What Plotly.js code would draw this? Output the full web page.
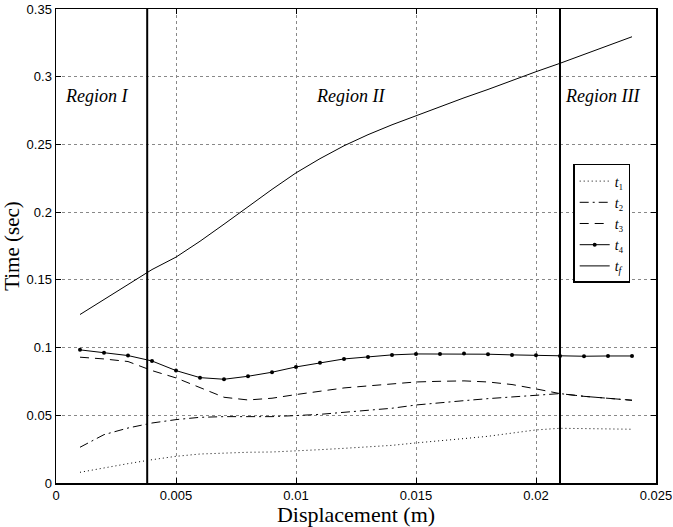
<!DOCTYPE html>
<html><head><meta charset="utf-8">
<script src="https://cdn.plot.ly/plotly-3.0.1.min.js"></script>
<style>html,body{margin:0;padding:0;background:#fff}#chart{width:673px;height:527px}</style>
</head><body><div id="chart"></div>
<script>
const displacement = [0.001,0.002,0.003,0.004,0.005,0.006,0.007,0.008,0.009,0.010,0.011,0.012,0.013,0.014,0.015,0.016,0.017,0.018,0.019,0.020,0.021,0.022,0.023,0.024];
const t1 = [0.0079,0.0113,0.0143,0.0172,0.0197,0.0214,0.0222,0.0227,0.0229,0.0236,0.0246,0.0256,0.0266,0.0278,0.0296,0.0310,0.0328,0.0345,0.0370,0.0392,0.0404,0.0401,0.0399,0.0397];
const t2 = [0.0264,0.0357,0.0406,0.0443,0.0468,0.0485,0.0490,0.0488,0.0490,0.0498,0.0507,0.0522,0.0537,0.0552,0.0576,0.0594,0.0608,0.0623,0.0635,0.0648,0.0660,0.0640,0.0626,0.0611];
const t3 = [0.0929,0.0916,0.0897,0.0830,0.0776,0.0702,0.0633,0.0613,0.0626,0.0653,0.0677,0.0702,0.0717,0.0734,0.0746,0.0751,0.0754,0.0746,0.0727,0.0695,0.0660,0.0640,0.0626,0.0611];
const t4 = [0.0983,0.0961,0.0941,0.0901,0.0830,0.0778,0.0766,0.0788,0.0818,0.0857,0.0887,0.0916,0.0931,0.0946,0.0953,0.0953,0.0956,0.0951,0.0946,0.0943,0.0938,0.0936,0.0938,0.0938];
const tf = [0.1244,0.1355,0.1466,0.1576,0.1668,0.1785,0.1911,0.2040,0.2168,0.2290,0.2395,0.2490,0.2572,0.2645,0.2713,0.2780,0.2844,0.2906,0.2973,0.3037,0.3099,0.3166,0.3228,0.3295];
const seriesNames = ['<i>t</i>\u2081','<i>t</i>\u2082','<i>t</i>\u2083','<i>t</i>\u2084','<i>t</i><sub><i>f</i></sub>'];
const regionBounds = [0.0038, 0.021];
const regionLabels = ['Region I','Region II','Region III'];
const regionLabelX = [0.0017, 0.01225, 0.02277];
const regionLabelY = [0.286, 0.286, 0.286];

const serif = 'Liberation Serif, DejaVu Serif, serif';
const traces = [
  {x: displacement, y: t1, name: seriesNames[0], mode:'lines', line:{color:'#000', width:1, dash:'1px,3px'}},
  {x: displacement, y: t2, name: seriesNames[1], mode:'lines', line:{color:'#000', width:1, dash:'9px,4px,2px,4px'}},
  {x: displacement, y: t3, name: seriesNames[2], mode:'lines', line:{color:'#000', width:1, dash:'9px,6px'}},
  {x: displacement, y: t4, name: seriesNames[3], mode:'lines+markers', line:{color:'#000', width:1}, marker:{color:'#000', size:4}},
  {x: displacement, y: tf, name: seriesNames[4], mode:'lines', line:{color:'#000', width:1}}
];
const shapes = regionBounds.map(b => ({type:'line', xref:'x', yref:'paper', x0:b, x1:b, y0:0, y1:1, line:{color:'#000', width:2}}));
const annotations = regionLabels.map((t,i) => ({x: regionLabelX[i], y: regionLabelY[i], xref:'x', yref:'y', text:'<i>'+t+'</i>', showarrow:false, font:{family:serif, size:18, color:'#000'}}));
const axisCommon = {showline:true, linecolor:'#000', linewidth:1.5, mirror:'allticks', ticks:'inside', ticklen:5, tickcolor:'#000',
  showgrid:true, gridcolor:'#888', griddash:'dot', gridwidth:1, zeroline:false, tickfont:{family:'Liberation Sans, Arial, sans-serif', size:13, color:'#000'}};
const layout = {
  width:673, height:527,
  margin:{l:56, r:17, t:9, b:44},
  paper_bgcolor:'#fff', plot_bgcolor:'#fff',
  showlegend:true,
  legend:{x:0.862, y:0.673, xanchor:'left', yanchor:'top', bgcolor:'#fff', bordercolor:'#000', borderwidth:1.5,
    font:{family:serif, size:14, color:'#000'}, itemwidth:30, tracegroupgap:0},
  xaxis: Object.assign({}, axisCommon, {range:[0,0.025], dtick:0.005, tick0:0,
    title:{text:'Displacement (m)', font:{family:serif, size:22, color:'#000'}, standoff:0}}),
  yaxis: Object.assign({}, axisCommon, {range:[0,0.35], dtick:0.05, tick0:0,
    title:{text:'Time (sec)', font:{family:serif, size:21, color:'#000'}, standoff:2}}),
  shapes: shapes,
  annotations: annotations
};
Plotly.newPlot('chart', traces, layout, {displayModeBar:false, staticPlot:true});
</script></body></html>
